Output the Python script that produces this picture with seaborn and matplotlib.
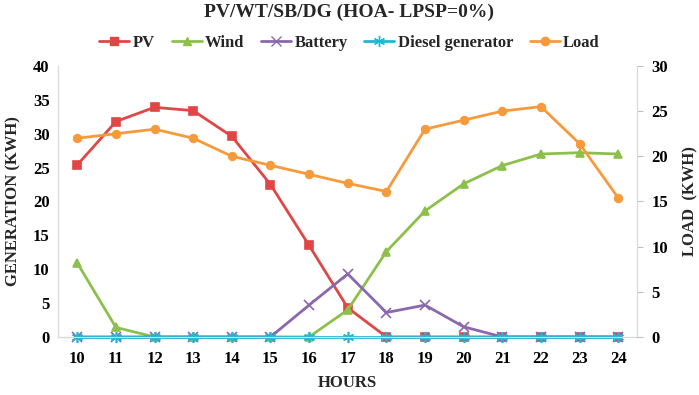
#!/usr/bin/env python3

import numpy as np
import pandas as pd
import matplotlib.pyplot as plt
import seaborn as sns
from matplotlib.lines import Line2D

hours = list(range(10, 25))
pv = [25.4, 31.8, 33.9, 33.4, 29.6, 22.5, 13.5, 4.3, 0, 0, 0, 0, 0, 0, 0]
wind = [10.9, 1.4, 0, 0, 0, 0, 0, 4.0, 12.6, 18.6, 22.6, 25.3, 27.0, 27.2, 27.0]
battery = [0, 0, 0, 0, 0, 0, 4.7, 9.3, 3.6, 4.7, 1.5, 0, 0, 0, 0]
diesel = [0] * 15
load = [22.0, 22.5, 23.0, 22.0, 20.0, 19.0, 18.0, 17.0, 16.1, 23.0, 24.0, 25.0, 25.5, 21.4, 15.4]

sns.set_style("white")
plt.rcParams['font.family'] = ['Liberation Serif', 'DejaVu Serif']
plt.rcParams['font.weight'] = 'bold'

fig, ax = plt.subplots(figsize=(6.99, 3.95), dpi=100)
fig.subplots_adjust(left=0.083, right=0.912, top=0.833, bottom=0.147)
ax2 = ax.twinx()

series = [
    ("PV", pv, "#E04646", "s", 6),
    ("Wind", wind, "#8DC04B", "^", 6),
    ("Battery", battery, "#8B68AE", "x", 7),
    ("Diesel generator", diesel, "#1DB9D3", (6, 2, 0), 8),
]
handles = []
for name, vals, col, mk, ms in series:
    sns.lineplot(x=hours, y=vals, ax=ax, color=col, marker=mk, markersize=ms,
                 linewidth=2, markeredgecolor=col, markeredgewidth=1.2, clip_on=False)
    handles.append(Line2D([], [], color=col, marker=mk, markersize=ms,
                          linewidth=2, markeredgecolor=col, label=name))

sns.lineplot(x=hours, y=load, ax=ax2, color="#F79A3B", marker="o", markersize=6,
             linewidth=2, markeredgecolor="#F79A3B", clip_on=False)
handles.append(Line2D([], [], color="#F79A3B", marker="o", markersize=6,
                      linewidth=2, label="Load"))

ax.set_xlim(9.5, 24.5)
ax.set_ylim(0, 40)
ax2.set_ylim(0, 30)
ax.set_xticks(hours)
ax.set_yticks(range(0, 41, 5))
ax2.set_yticks(range(0, 31, 5))

for a in (ax, ax2):
    for s in a.spines.values():
        s.set_color("#D9D9D9")
    a.spines['top'].set_visible(False)
    a.tick_params(labelsize=12, colors="black", length=0, pad=6)
ax.tick_params(axis='x', pad=10)
ax2.tick_params(axis='y', length=4, color="#BFBFBF")
ax.spines['bottom'].set_color("#BFBFBF")

ax.set_xlabel("HOURS", fontsize=12, fontweight="bold")
ax.xaxis.set_label_coords(0.5, -0.14)
ax.set_ylabel("GENERATION (KWH)", fontsize=12, fontweight="bold", labelpad=8)
ax2.set_ylabel("LOAD  (KWH)", fontsize=12, fontweight="bold", labelpad=10)

fig.suptitle("PV/WT/SB/DG (HOA- LPSP=0%)", fontsize=14, fontweight="bold", y=0.99)
fig.legend(handles=handles, loc="upper center", bbox_to_anchor=(0.5, 0.95),
           ncol=5, frameon=False, fontsize=12, handlelength=1.8,
           handletextpad=0.2, columnspacing=1.0)

fig.savefig("out.png", dpi=100)
plt.close()
